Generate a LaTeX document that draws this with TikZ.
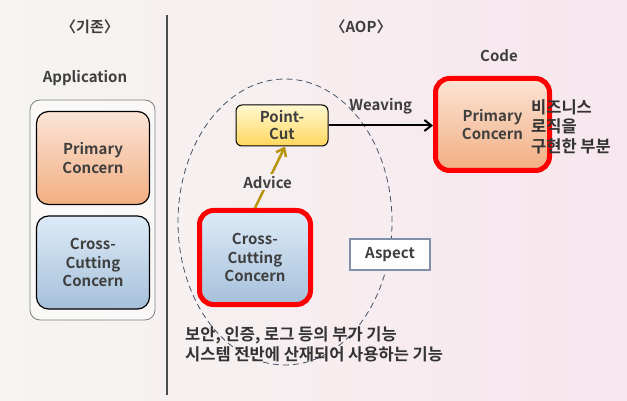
\documentclass[tikz,border=0pt]{standalone}
\usepackage{fontspec}
\setmainfont{Noto Sans CJK KR}[BoldFont={Noto Sans CJK KR Bold}]
\usetikzlibrary{arrows.meta, positioning, shapes.geometric}
\definecolor{txt}{HTML}{3F3F3F}
\definecolor{bgleft}{HTML}{F6F5F1}
\definecolor{bgright}{HTML}{F7E6EE}
\definecolor{prtop}{HTML}{FBE4D6}
\definecolor{prbot}{HTML}{F2AE82}
\definecolor{crtop}{HTML}{DDEBF8}
\definecolor{crbot}{HTML}{A6C0DA}
\definecolor{pctop}{HTML}{FFF8D0}
\definecolor{pcbot}{HTML}{FFD75E}
\definecolor{advgold}{HTML}{B8940C}
\definecolor{zone}{HTML}{44546A}
\definecolor{aspbord}{HTML}{8090A8}

\begin{document}
\begin{tikzpicture}[x=1pt, y=-1pt,
  font=\bfseries\fontsize{15}{18.5}\selectfont, text=txt,
  concern/.style={rounded corners=12pt, align=center, minimum width=113pt, minimum height=93pt, line width=1.2pt},
  primary/.style={concern, top color=prtop, bottom color=prbot},
  cross/.style={concern, top color=crtop, bottom color=crbot},
  woven/.style={draw=red, line width=5pt, rounded corners=14pt},
  note/.style={align=left, inner sep=0pt, text=black!80, font=\bfseries\fontsize{16.5}{19.5}\selectfont},
  arr/.style={-{Straight Barb[length=7pt, width=11pt]}, line width=2pt}
]
  % background
  \shade[left color=bgleft, right color=bgright] (0,0) rectangle (627,401);

  % --- existing approach
  \node (oldtitle) at (90,27) {〈기존〉};
  \node (apptitle) at (85,78) {Application};
  \node[draw=gray, fill=white, fill opacity=0.5, rounded corners=10pt, line width=0.8pt,
        minimum width=125pt, minimum height=220pt] (app) at (92.5,210) {};
  \node[primary, draw=black] (primaryold) at (93,158) {Primary\\Concern};
  \node[cross, draw=black] (crossold) at (93,262.5) {Cross-\\Cutting\\Concern};

  \draw[line width=1.5pt, black!70] (167,15) -- (167,395);

  % --- AOP
  \node (aoptitle) at (361,27) {〈AOP〉};
  \node[ellipse, draw=zone, dash pattern=on 6pt off 4pt, line width=0.8pt, minimum width=214pt, minimum height=286pt] (aspectzone) at (285,222) {};
  \node[primary, woven, minimum width=114pt, minimum height=92pt] (primaryaop) at (492.5,124.5) {Primary\\Concern};
  \node (code) at (499,56) {Code};
  \node[cross, woven, minimum width=111pt, minimum height=94pt] (crossaop) at (255,257.5) {Cross-\\Cutting\\Concern};
  \node[draw=black, top color=pctop, bottom color=pcbot, rounded corners=6pt, line width=1pt,
        align=center, minimum width=92pt, minimum height=41pt, inner sep=1pt,
        font=\bfseries\fontsize{15}{17}\selectfont] (pointcut) at (282,125.5) {Point-\\Cut};
  \node[draw=aspbord, fill=white, line width=1.5pt, minimum width=80pt, minimum height=31pt] (aspect) at (390,254.5) {Aspect};

  \draw[arr] (pointcut.east) -- node[above=7pt] (weaving) {Weaving} (pointcut.east -| primaryaop.west);
  \draw[arr, advgold, line width=2.5pt] (crossaop.north) -- node[pos=0.42, fill=bgleft!60!bgright, text=txt, inner sep=2pt] (advice) {Advice} ([xshift=3pt]pointcut.south);

  % notes
  \node[note, anchor=west] (bizlogic) at (531,126.5) {비즈니스\\로직을\\구현한 부분};
  \node[note, anchor=west] (crossnote) at (185,344.5) {보안, 인증, 로그 등의 부가 기능\\시스템 전반에 산재되어 사용하는 기능};
\end{tikzpicture}
\end{document}
